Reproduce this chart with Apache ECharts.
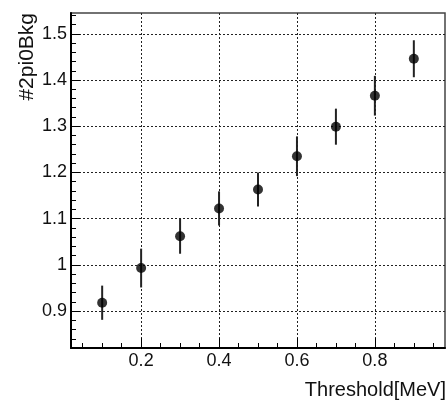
<!DOCTYPE html>
<html>
<head>
<meta charset="utf-8">
<script src="https://cdn.jsdelivr.net/npm/echarts@6/dist/echarts.min.js"></script>
<style>
  html, body { margin: 0; padding: 0; background: #fff; }
  #chart { width: 447px; height: 401px; }
</style>
</head>
<body>
<div id="chart"></div>
<script>
// Background yield vs. energy threshold
const thresholds = [0.1, 0.2, 0.3, 0.4, 0.5, 0.6, 0.7, 0.8, 0.9];
const bkgValues  = [0.918, 0.993, 1.062, 1.122, 1.163, 1.235, 1.299, 1.366, 1.446];
const bkgErrors  = [0.037, 0.042, 0.038, 0.037, 0.037, 0.043, 0.039, 0.043, 0.040];

const xMajorTicks = [0.2, 0.4, 0.6, 0.8];
const yMajorTicks = [0.9, 1.0, 1.1, 1.2, 1.3, 1.4, 1.5];

const X_MIN = 0.02, X_MAX = 0.98;
const Y_MIN = 0.82, Y_MAX = 1.545;

// minor ticks: 0.05 steps on x, 0.02 steps on y
const xMinorTicks = [];
for (let i = 1; i <= 19; i++) xMinorTicks.push(+(i * 0.05).toFixed(2));
const yMinorTicks = [];
for (let i = 41; i <= 77; i++) yMinorTicks.push(+(i * 0.02).toFixed(2));

const FONT = 'Liberation Sans';
const fmt = v => String(Number(v.toFixed(2)));

const points = thresholds.map((x, i) => [x, bkgValues[i]]);
const bars = thresholds.map((x, i) => [x, bkgValues[i] - bkgErrors[i], bkgValues[i] + bkgErrors[i]]);

const dotted = { color: '#222', width: 1, type: [2, 2] };

const chart = echarts.init(document.getElementById('chart'), null, { renderer: 'canvas' });
chart.setOption({
  animation: false,
  backgroundColor: '#fff',
  grid: {
    left: 71, right: 2, top: 13, bottom: 53,
    show: true, borderColor: '#444', borderWidth: 1.5, backgroundColor: 'transparent'
  },
  xAxis: [
    {
      type: 'value', min: X_MIN, max: X_MAX, position: 'bottom',
      axisLine: { show: true, onZero: false, lineStyle: { color: '#000', width: 2 } },
      axisTick: { show: true, inside: true, length: 10, customValues: xMajorTicks,
                  lineStyle: { color: '#000', width: 1 } },
      axisLabel: { show: true, customValues: xMajorTicks, formatter: fmt, margin: 4,
                   fontFamily: FONT, fontSize: 18, color: '#111' },
      splitLine: { show: true, lineStyle: dotted }
    },
    {
      type: 'value', min: X_MIN, max: X_MAX, position: 'bottom', gridIndex: 0,
      axisLine: { show: false, onZero: false },
      axisTick: { show: true, inside: true, length: 5, customValues: xMinorTicks,
                  lineStyle: { color: '#000', width: 1 } },
      axisLabel: { show: false },
      splitLine: { show: false }
    }
  ],
  yAxis: [
    {
      type: 'value', min: Y_MIN, max: Y_MAX, position: 'left',
      axisLine: { show: true, onZero: false, lineStyle: { color: '#000', width: 2 } },
      axisTick: { show: true, inside: true, length: 9, customValues: yMajorTicks,
                  lineStyle: { color: '#000', width: 1 } },
      axisLabel: { show: true, customValues: yMajorTicks, formatter: fmt, margin: 4,
                   fontFamily: FONT, fontSize: 18, color: '#111' },
      splitLine: { show: true, lineStyle: dotted }
    },
    {
      type: 'value', min: Y_MIN, max: Y_MAX, position: 'left', gridIndex: 0,
      axisLine: { show: false, onZero: false },
      axisTick: { show: true, inside: true, length: 5, customValues: yMinorTicks,
                  lineStyle: { color: '#000', width: 1 } },
      axisLabel: { show: false },
      splitLine: { show: false }
    }
  ],
  graphic: [
    {
      type: 'text', x: 38, y: 13, rotation: Math.PI / 2,
      style: { text: '#2pi0Bkg', fontFamily: FONT, fontSize: 21, fill: '#111',
               align: 'right', verticalAlign: 'bottom' }
    },
    {
      type: 'text', x: 446, y: 400,
      style: { text: 'Threshold[MeV]', fontFamily: FONT, fontSize: 20, fill: '#111',
               align: 'right', verticalAlign: 'bottom' }
    }
  ],
  series: [
    {
      type: 'custom',
      xAxisIndex: 0, yAxisIndex: 0,
      data: bars,
      renderItem: function (params, api) {
        const lo = api.coord([api.value(0), api.value(1)]);
        const hi = api.coord([api.value(0), api.value(2)]);
        return {
          type: 'line',
          shape: { x1: lo[0], y1: lo[1], x2: hi[0], y2: hi[1] },
          style: { stroke: '#222', lineWidth: 2 }
        };
      },
      z: 3
    },
    {
      type: 'scatter',
      xAxisIndex: 0, yAxisIndex: 0,
      data: points,
      symbol: 'circle', symbolSize: 10,
      itemStyle: { color: '#000' },
      z: 4
    }
  ]
});
</script>
</body>
</html>
